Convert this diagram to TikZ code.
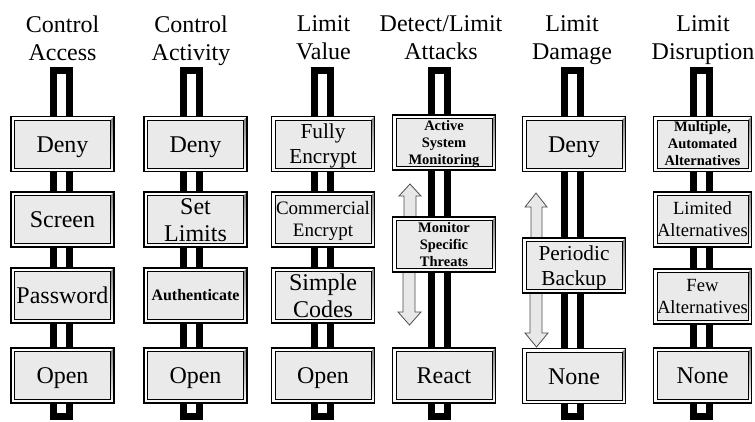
\documentclass[tikz,border=0pt]{standalone}
\usepackage{fontspec}
\setmainfont{Liberation Serif}
\definecolor{boxfill}{HTML}{EAEAEA}
\definecolor{shade}{HTML}{8A8A8A}
\definecolor{arrowfill}{HTML}{E8E8E8}
\definecolor{arrowline}{HTML}{4D4D4D}
\newcommand{\lstrut}{\rule[-0.216em]{0pt}{1.107em}}
\tikzset{
  bevelbox/.style={draw=black, line width=1.3pt, fill=boxfill,
    minimum width=103pt, minimum height=55pt, inner sep=0pt, align=center,
    font=\fontsize{24}{27}\selectfont,
    execute at begin node=\lstrut, execute at end node=\lstrut,
    path picture={
      \fill[white] (path picture bounding box.north west) -- (path picture bounding box.north east)
        -- ([shift={(-3.5pt,-3.5pt)}]path picture bounding box.north east)
        -- ([shift={(3.5pt,-3.5pt)}]path picture bounding box.north west)
        -- ([shift={(3.5pt,3.5pt)}]path picture bounding box.south west)
        -- (path picture bounding box.south west) -- cycle;
      \fill[shade] (path picture bounding box.north east) -- (path picture bounding box.south east)
        -- (path picture bounding box.south west)
        -- ([shift={(3.5pt,3.5pt)}]path picture bounding box.south west)
        -- ([shift={(-3.5pt,3.5pt)}]path picture bounding box.south east)
        -- ([shift={(-3.5pt,-3.5pt)}]path picture bounding box.north east) -- cycle;
      \draw[line width=0.9pt] ([shift={(3.5pt,3.5pt)}]path picture bounding box.south west)
        rectangle ([shift={(-3.5pt,-3.5pt)}]path picture bounding box.north east);
    }},
  pole/.style={draw=black, line width=7pt, fill=white, minimum width=16pt,
    minimum height=346pt, inner sep=0pt},
  title/.style={align=center, inner sep=0pt, anchor=north, font=\fontsize{24}{28}\selectfont},
  blockarrow/.style={draw=arrowline, line width=0.8pt, fill=arrowfill, line join=miter},
  boldsmall/.style={font=\fontsize{14.5}{17}\selectfont\bfseries},
  medtext/.style={font=\fontsize{21.3}{25}\selectfont},
  smalltext/.style={font=\fontsize{19}{21}\selectfont},
  alttext/.style={font=\fontsize{18.6}{20}\selectfont},
}
\begin{document}
\begin{tikzpicture}[x=1pt, y=-1pt]
\useasboundingbox (0,0) rectangle (755,421);

% poles
\node[pole] (p1) at (61.5,243.5) {};
\node[pole] (p2) at (191.5,243.5) {};
\node[pole] (p3) at (322,243.5) {};
\node[pole] (p4) at (439,243.5) {};
\node[pole] (p5) at (572.5,243.5) {};
\node[pole] (p6) at (701.5,243.5) {};

% block arrows
\draw[blockarrow] (404,217) -- (404,196) -- (399,196) -- (410,184) -- (421,196) -- (416,196) -- (416,217) -- cycle;
\draw[blockarrow] (403,272) -- (403,312) -- (398,312) -- (409.5,325) -- (421,312) -- (415,312) -- (415,272) -- cycle;
\draw[blockarrow] (531,238) -- (531,207) -- (525,207) -- (536,193) -- (547,207) -- (542,207) -- (542,238) -- cycle;
\draw[blockarrow] (530,293) -- (530,333) -- (525,333) -- (536.5,347) -- (548,333) -- (542,333) -- (542,293) -- cycle;

% column 1
\node[bevelbox] (a1) at (62.5,144) {Deny};
\node[bevelbox] (a2) at (62.5,219.5) {Screen};
\node[bevelbox] (a3) at (62.5,295.5) {Password};
\node[bevelbox] (a4) at (62.5,375.5) {Open};

% column 2
\node[bevelbox] (b1) at (195.5,144) {Deny};
\node[bevelbox] (b2) at (195.5,219.5) {\lstrut Set\\Limits\lstrut};
\node[bevelbox, font=\fontsize{16}{19}\selectfont\bfseries] (b3) at (195.5,295.5) {Authenticate};
\node[bevelbox] (b4) at (195.5,375.5) {Open};

% column 3
\node[bevelbox, medtext] (c1) at (323,144) {\lstrut Fully\\Encrypt\lstrut};
\node[bevelbox, smalltext] (c2) at (323,219.5) {\lstrut Commercial\\Encrypt\lstrut};
\node[bevelbox] (c3) at (323,295.5) {\lstrut Simple\\Codes\lstrut};
\node[bevelbox] (c4) at (323,375.5) {Open};

% column 4
\node[bevelbox, boldsmall] (d1) at (444,142.5) {\lstrut Active\\System\\Monitoring\lstrut};
\node[bevelbox, boldsmall] (d2) at (444,244.5) {\lstrut Monitor\\Specific\\Threats\lstrut};
\node[bevelbox] (d3) at (444,375.5) {React};

% column 5
\node[bevelbox] (e1) at (574,144) {Deny};
\node[bevelbox, medtext] (e2) at (574,265.5) {\lstrut Periodic\\Backup\lstrut};
\node[bevelbox] (e3) at (574,376) {None};

% column 6
\node[bevelbox, boldsmall, minimum width=98pt] (f1) at (702.5,144) {\lstrut Multiple,\\Automated\\Alternatives\lstrut};
\node[bevelbox, alttext, minimum width=98pt] (f2) at (702.5,219.5) {\lstrut Limited\\Alternatives\lstrut};
\node[bevelbox, alttext, minimum width=98pt] (f3) at (702.5,296.5) {\lstrut Few\\Alternatives\lstrut};
\node[bevelbox, minimum width=98pt] (f4) at (702.5,375.5) {None};

% titles
\node[title] (t1) at (62.5,15.5) {Control\\Access};
\node[title] (t2) at (191,15.5) {Control\\Activity};
\node[title] (t3) at (323.5,15.5) {Limit\\Value};
\node[title] (t4) at (441,15.5) {Detect/Limit\\Attacks};
\node[title] (t5) at (572,15.5) {Limit\\Damage};
\node[title] (t6) at (703,15.5) {Limit\\Disruption};
\end{tikzpicture}
\end{document}
